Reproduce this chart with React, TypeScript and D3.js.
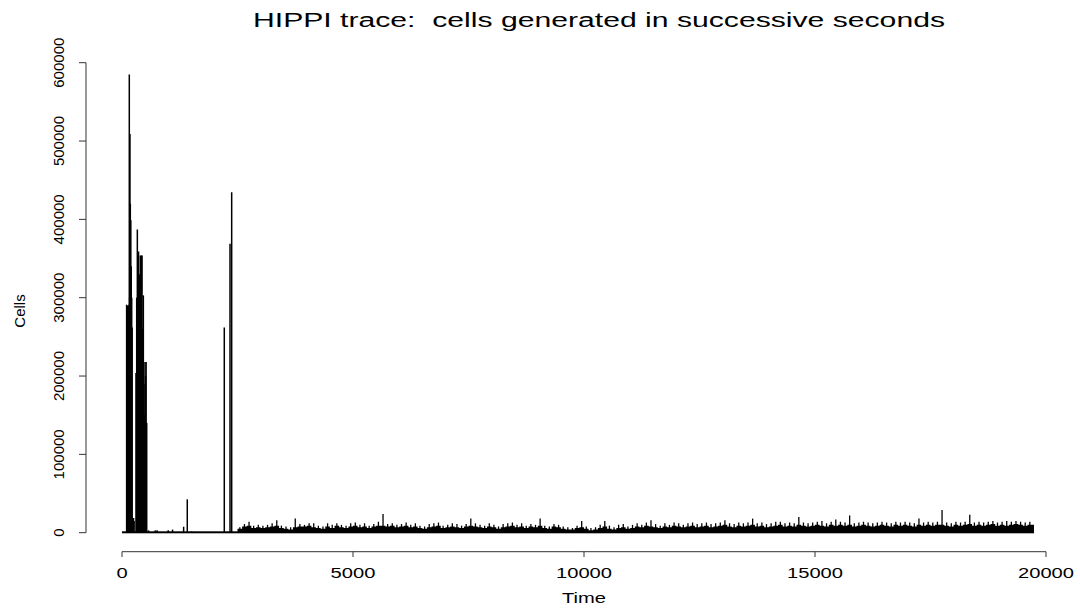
import * as d3 from "d3";

// axis ticks
const xTicks = [0, 5000, 10000, 15000, 20000];
const yTicks = [0, 100000, 200000, 300000, 400000, 500000, 600000];

// early bursts and isolated spikes (second, cells)
const burstSeconds = [
  100, 110, 120, 130, 140, 150, 158, 165, 172, 180, 190, 200, 210, 220, 235, 250, 262,
  303, 318, 332, 345, 358, 370, 383, 397, 410, 422, 433, 447, 462, 475, 488, 498, 510, 522, 535,
  575, 720, 760, 1000, 1094, 1334, 1413, 1507, 2214, 2338, 2374,
];
const burstCells = [
  291000, 255000, 290000, 288000, 275000, 291000, 585000, 300000, 509000, 420000, 399000, 340000, 300000, 262000, 18800, 18800, 15000,
  204000, 300000, 387000, 352000, 359000, 300000, 330000, 354000, 340000, 354000, 354000, 260000, 303000, 190000, 150000, 218000, 200000, 218000, 140000,
  3000, 3000, 3000, 3000, 4000, 7600, 42600, 1500, 262000, 369000, 434500,
];

// steady traffic after ~2500 s, 100 s bins, thousands of cells
const noiseStart = 2500;
const noiseBin = 100;
const traceEnd = 19740;
const trickleCells = 1800;
const noiseLevel = [
  5, 8, 9, 6, 7, 6, 7, 8, 9, 6, 5, 4, 7, 8, 8, 9, 7, 6, 5, 8,
  6, 9, 7, 6, 8, 9, 7, 8, 6, 8, 9, 9, 8, 9, 7, 8, 9, 7, 8, 6,
  5, 7, 8, 9, 6, 7, 8, 7, 6, 8, 9, 8, 7, 6, 8, 7, 5, 7, 8, 9,
  7, 8, 6, 8, 7, 9, 6, 5, 8, 7, 5, 4, 4, 6, 7, 5, 3, 4, 6, 8,
  5, 4, 6, 7, 5, 6, 8, 7, 9, 8, 7, 6, 8, 7, 9, 8, 7, 8, 9, 7,
  8, 9, 7, 8, 9, 10, 8, 7, 9, 8, 9, 10, 8, 9, 7, 8, 9, 10, 8, 9,
  8, 10, 9, 8, 9, 10, 9, 8, 10, 9, 10, 9, 10, 8, 9, 10, 9, 8, 9, 10,
  9, 8, 10, 9, 10, 9, 8, 10, 9, 10, 9, 10, 10, 9, 8, 10, 9, 10, 11, 9,
  10, 9, 10, 11, 9, 10, 9, 10, 11, 10, 9, 10,
];
const noisePeak = [
  7, 11, 14, 9, 10, 9, 10, 12, 16, 9, 8, 7, 18, 11, 10, 12, 12, 9, 8, 12,
  10, 12, 10, 9, 12, 13, 10, 12, 9, 11, 14, 24, 11, 12, 10, 11, 13, 10, 12, 9,
  8, 11, 12, 13, 9, 10, 12, 11, 9, 11, 18, 12, 10, 9, 12, 10, 8, 11, 12, 13,
  10, 12, 9, 11, 10, 18, 9, 8, 11, 10, 8, 7, 6, 9, 15, 8, 6, 7, 10, 15,
  9, 7, 10, 11, 8, 10, 12, 10, 13, 16, 11, 9, 12, 10, 13, 12, 10, 12, 13, 11,
  12, 13, 11, 12, 13, 16, 12, 11, 13, 12, 13, 18, 12, 13, 11, 12, 14, 14, 12, 13,
  12, 20, 13, 12, 13, 14, 15, 12, 14, 17, 14, 13, 22, 12, 13, 14, 13, 12, 13, 14,
  13, 12, 14, 13, 14, 13, 12, 18, 13, 14, 13, 14, 29, 13, 12, 14, 13, 14, 23, 13,
  14, 13, 14, 15, 13, 14, 15, 14, 15, 14, 13, 14,
];

const W = 1080;
const H = 609;
const font = "'Liberation Sans', Arial, Helvetica, sans-serif";

export default function App() {
  const x = d3.scaleLinear().domain([0, 20000]).range([122, 1046]);
  const y = d3.scaleLinear().domain([0, 600000]).range([532.7, 62.7]);

  // solid band of the steady traffic
  const band = noiseLevel.map((v, i) => ({ t: noiseStart + i * noiseBin, v: v * 1000 }));
  band.push({ t: traceEnd, v: noiseLevel[noiseLevel.length - 1] * 1000 });
  const bandArea = d3
    .area<{ t: number; v: number }>()
    .x((d) => x(d.t))
    .y0(y(0))
    .y1((d) => y(d.v))
    .curve(d3.curveStepAfter);

  return (
    <svg
      width={W}
      height={H}
      style={{ position: "absolute", left: 0, top: 0, background: "#fff" }}
      fontFamily={font}
    >
      {/* title */}
      <text
        x={599}
        y={27}
        fontSize={20}
        textAnchor="middle"
        textLength={692}
        lengthAdjust="spacingAndGlyphs"
        style={{ whiteSpace: "pre" }}
      >
        {"HIPPI trace:  cells generated in successive seconds"}
      </text>

      {/* thin trickle along zero */}
      <rect x={x(0)} y={y(trickleCells)} width={x(traceEnd) - x(0)} height={y(0) - y(trickleCells) + 0.6} fill="#000" />

      <path d={bandArea(band) ?? ""} fill="#000" />

      {noisePeak.map((v, i) => (
        <line
          key={"p" + i}
          x1={x(noiseStart + i * noiseBin + noiseBin / 2)}
          x2={x(noiseStart + i * noiseBin + noiseBin / 2)}
          y1={y(0)}
          y2={y(v * 1000)}
          stroke="#000"
          strokeWidth={1.3}
        />
      ))}

      {burstSeconds.map((t, i) => (
        <line key={"b" + i} x1={x(t)} x2={x(t)} y1={y(0)} y2={y(burstCells[i])} stroke="#000" strokeWidth={1.5} />
      ))}

      {/* y axis */}
      <g stroke="#333" strokeWidth={1}>
        <line x1={86} x2={86} y1={y(0)} y2={y(600000)} />
        {yTicks.map((t) => (
          <line key={t} x1={79} x2={86} y1={y(t)} y2={y(t)} />
        ))}
      </g>
      {yTicks.map((t) => (
        <text key={t} transform={`translate(64,${y(t)}) rotate(-90)`} fontSize={15} textAnchor="middle">
          {t}
        </text>
      ))}

      {/* x axis */}
      <g stroke="#333" strokeWidth={1}>
        <line x1={x(0)} x2={x(20000)} y1={551.7} y2={551.7} />
        {xTicks.map((t) => (
          <line key={t} x1={x(t)} x2={x(t)} y1={551.7} y2={557} />
        ))}
      </g>
      {xTicks.map((t) => (
        <text key={t} transform={`translate(${x(t)},578) scale(1.3,1)`} fontSize={15.5} textAnchor="middle">
          {t}
        </text>
      ))}

      <text transform="translate(584,603) scale(1.3,1)" fontSize={15.5} textAnchor="middle">
        Time
      </text>
      <text transform="translate(25,311) rotate(-90)" fontSize={15} textAnchor="middle">
        Cells
      </text>
    </svg>
  );
}
